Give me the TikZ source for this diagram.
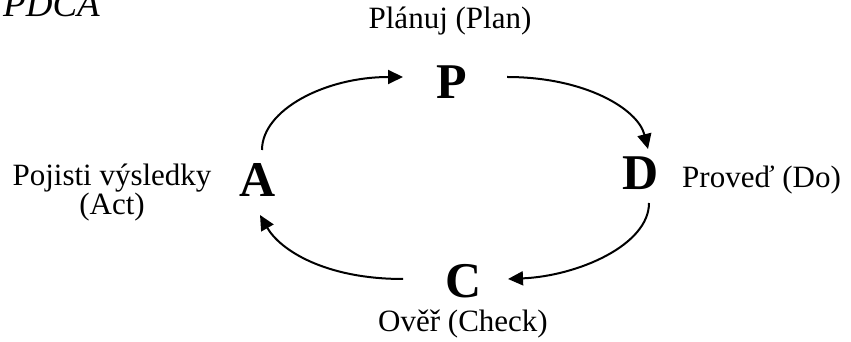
\documentclass[tikz,border=0pt]{standalone}
\usepackage{fontspec}
\setmainfont{Liberation Serif}
\usetikzlibrary{arrows.meta}

\begin{document}
\begin{tikzpicture}[
    x=1pt, y=1pt,
    ltr/.style={inner sep=0pt, font=\fontsize{50}{60}\selectfont\bfseries},
    lbl/.style={inner sep=0pt, font=\fontsize{31}{29}\selectfont, anchor=base},
    cyc/.style={line width=2pt, -{Triangle[length=15pt, width=14pt]}}
]
    \useasboundingbox (0,0) rectangle (851,342);
    % --- title ---
    \node[inner sep=0pt, anchor=base west, font=\fontsize{37}{44}\selectfont\itshape] (title) at (3,325) {PDCA};
    % --- the four steps ---
    \node[ltr] (P) at (451.5,260) {P};
    \node[ltr] (D) at (641,169) {D};
    \node[ltr] (C) at (464,61) {C};
    \node[ltr] (A) at (257.5,162) {A};
    \node[lbl] (plan) at (450,313) {Plánuj (Plan)};
    \node[lbl, anchor=base west] (do) at (682,154) {Proveď (Do)};
    \node[lbl] (check) at (463,10) {Ověř (Check)};
    \node[lbl, align=center] (act) at (112,127) {Pojisti výsledky\\(Act)};
    % --- cycle ---
    \draw[cyc] ([shift={(4.5,30)}]A.center) .. controls +(0,40) and +(-78,0) .. ([shift={(-48.5,5)}]P.center);
    \draw[cyc] ([shift={(55.5,5)}]P.center) .. controls +(78,0) and +(-10,40) .. ([shift={(7,24)}]D.center);
    \draw[cyc] ([shift={(8,-30)}]D.center) .. controls +(0,-42) and +(70,3) .. ([shift={(44,2)}]C.center);
    \draw[cyc] ([shift={(-61,2)}]C.center) .. controls +(-78,0) and +(20,-35) .. ([shift={(2.5,-35)}]A.center);
\end{tikzpicture}
\end{document}
